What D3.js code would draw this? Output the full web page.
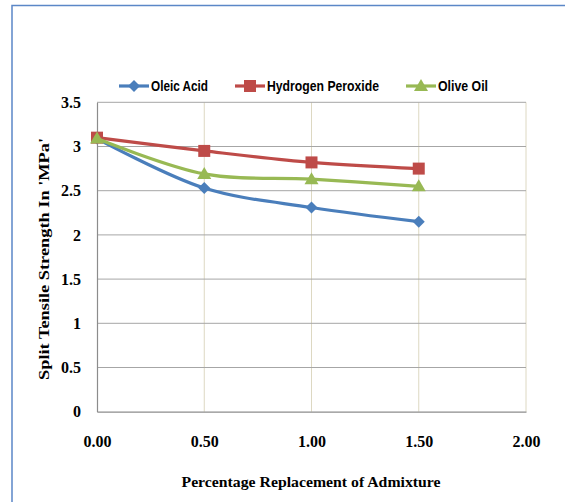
<!DOCTYPE html>
<html>
<head>
<meta charset="utf-8">
<script src="https://cdn.jsdelivr.net/npm/d3@7"></script>
<style>
  body { margin: 0; background: #fff; }
  svg { display: block; }
</style>
</head>
<body>
<div id="chart"></div>
<script>
// values
var xValues = [0, 0.5, 1.0, 1.5];
var oleicAcid = [3.09, 2.53, 2.31, 2.15];
var hydrogenPeroxide = [3.10, 2.95, 2.82, 2.75];
var oliveOil = [3.09, 2.69, 2.63, 2.55];
var seriesNames = ["Oleic Acid", "Hydrogen Peroxide", "Olive Oil"];
var xTicks = [0, 0.5, 1.0, 1.5, 2.0];
var yTicks = [0, 0.5, 1, 1.5, 2, 2.5, 3, 3.5];

var series = [
  { name: seriesNames[0], values: oleicAcid, color: "#4a7ebb", marker: "diamond" },
  { name: seriesNames[1], values: hydrogenPeroxide, color: "#be4b48", marker: "square" },
  { name: seriesNames[2], values: oliveOil, color: "#98b954", marker: "triangle" }
];

var width = 565, height = 502;
var plot = { left: 97, right: 526, top: 102.3, bottom: 411.7 };

var svg = d3.select("#chart").append("svg")
  .attr("width", width)
  .attr("height", height);

// outer chart frame (runs off the right and bottom edges)
svg.append("rect")
  .attr("x", 12).attr("y", 5.5)
  .attr("width", 600).attr("height", 600)
  .attr("fill", "none")
  .attr("stroke", "#5b87c7")
  .attr("stroke-width", 1.5);

var x = d3.scaleLinear().domain([0, 2]).range([plot.left, plot.right]);
var y = d3.scaleLinear().domain([0, 3.5]).range([plot.bottom, plot.top]);

// vertical grid
svg.append("g").selectAll("line")
  .data(xTicks.slice(1))
  .join("line")
  .attr("x1", function(d) { return x(d); })
  .attr("x2", function(d) { return x(d); })
  .attr("y1", plot.top).attr("y2", plot.bottom)
  .attr("stroke", "#ddd8c2").attr("stroke-width", 1);

// horizontal grid
svg.append("g").selectAll("line")
  .data(yTicks.slice(1))
  .join("line")
  .attr("x1", plot.left).attr("x2", plot.right)
  .attr("y1", function(d) { return y(d); })
  .attr("y2", function(d) { return y(d); })
  .attr("stroke", "#a6a6a6").attr("stroke-width", 1);

var tickFont = "'Liberation Serif', 'DejaVu Serif', serif";

// y axis
var yAxis = svg.append("g")
  .attr("transform", "translate(" + plot.left + ",0)")
  .call(d3.axisLeft(y).tickValues(yTicks).tickSize(0).tickPadding(16)
    .tickFormat(function(d) { return String(d); }));
yAxis.select(".domain").attr("stroke", "#8c8c8c").attr("stroke-width", 1.2);
yAxis.selectAll("text")
  .attr("font-family", tickFont).attr("font-weight", "bold")
  .attr("font-size", 16).attr("fill", "#000");

// x axis
var xAxis = svg.append("g")
  .attr("transform", "translate(0," + plot.bottom + ")")
  .call(d3.axisBottom(x).tickValues(xTicks).tickSize(0).tickPadding(24)
    .tickFormat(d3.format(".2f")));
xAxis.select(".domain").attr("stroke", "#8c8c8c").attr("stroke-width", 1.2);
xAxis.selectAll("text")
  .attr("font-family", tickFont).attr("font-weight", "bold")
  .attr("font-size", 16).attr("fill", "#000");

// axis titles
svg.append("text")
  .attr("x", 311).attr("y", 487)
  .attr("text-anchor", "middle")
  .attr("font-family", tickFont).attr("font-weight", "bold")
  .attr("font-size", 15)
  .attr("textLength", 259).attr("lengthAdjust", "spacingAndGlyphs")
  .text("Percentage Replacement of Admixture");

svg.append("text")
  .attr("transform", "translate(49,259) rotate(-90)")
  .attr("text-anchor", "middle")
  .attr("font-family", tickFont).attr("font-weight", "bold")
  .attr("font-size", 15)
  .attr("textLength", 242).attr("lengthAdjust", "spacingAndGlyphs")
  .text("Split Tensile Strength In 'MPa'");

// marker shapes
function markerPath(type) {
  if (type === "diamond") return "M0,-6L6,0L0,6L-6,0Z";
  if (type === "square") return "M-6,-6H6V6H-6Z";
  return "M0,-7L7,5H-7Z";
}

var line = d3.line()
  .x(function(d) { return x(d[0]); })
  .y(function(d) { return y(d[1]); })
  .curve(d3.curveCatmullRom.alpha(0.5));

series.forEach(function(s) {
  var pts = xValues.map(function(v, i) { return [v, s.values[i]]; });
  svg.append("path")
    .datum(pts)
    .attr("d", line)
    .attr("fill", "none")
    .attr("stroke", s.color)
    .attr("stroke-width", 3.2)
    .attr("stroke-linejoin", "round");
  svg.append("g").selectAll("path")
    .data(pts)
    .join("path")
    .attr("transform", function(d) { return "translate(" + x(d[0]) + "," + y(d[1]) + ")"; })
    .attr("d", markerPath(s.marker))
    .attr("fill", s.color);
});

// legend
var legendX = [119, 235, 406];
var legendTextW = [57, 112, 50];
var legend = svg.append("g").selectAll("g")
  .data(series)
  .join("g")
  .attr("transform", function(d, i) { return "translate(" + legendX[i] + ",86)"; });
legend.append("line")
  .attr("x1", 0).attr("x2", 30)
  .attr("stroke", function(d) { return d.color; })
  .attr("stroke-width", 3.2);
legend.append("path")
  .attr("transform", "translate(15,0)")
  .attr("d", function(d) { return markerPath(d.marker); })
  .attr("fill", function(d) { return d.color; });
legend.append("text")
  .attr("x", 32).attr("y", 5)
  .attr("font-family", "'Liberation Sans', sans-serif")
  .attr("font-weight", "bold")
  .attr("font-size", 14)
  .attr("fill", "#000")
  .attr("textLength", function(d, i) { return legendTextW[i]; })
  .attr("lengthAdjust", "spacingAndGlyphs")
  .text(function(d) { return d.name; });
</script>
</body>
</html>
